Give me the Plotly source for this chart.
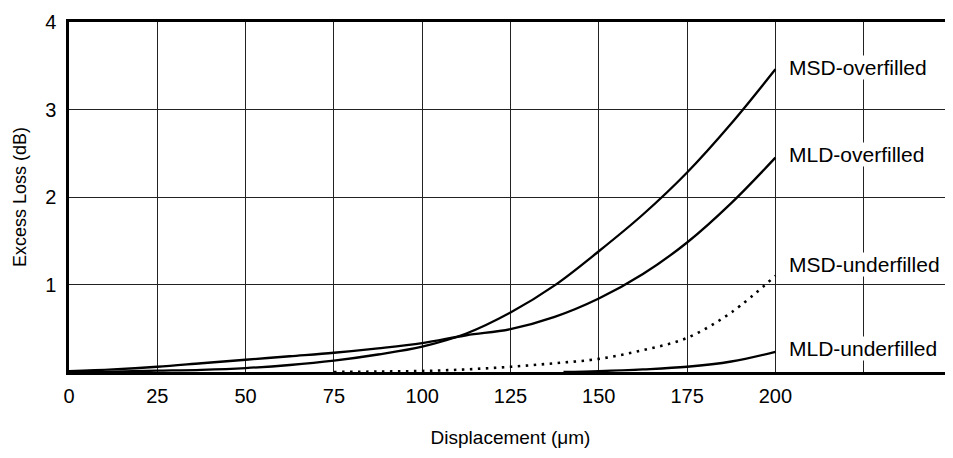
import plotly.graph_objects as go

# Displacement (um)
x_over = [0, 12.5, 25, 37.5, 50, 62.5, 75, 87.5, 100, 112.5, 125, 137.5, 150, 162.5, 175, 187.5, 200]
msd_over = [0.0, 0.005, 0.015, 0.025, 0.045, 0.08, 0.13, 0.2, 0.29, 0.44, 0.68, 0.99, 1.38, 1.8, 2.28, 2.84, 3.46]
mld_over = [0.01, 0.03, 0.06, 0.1, 0.14, 0.18, 0.22, 0.27, 0.33, 0.42, 0.49, 0.63, 0.84, 1.12, 1.48, 1.93, 2.45]

x_msd_under = [75, 87.5, 100, 112.5, 125, 137.5, 150, 162.5, 175, 187.5, 200]
msd_under = [0.0, 0.005, 0.012, 0.03, 0.06, 0.1, 0.15, 0.25, 0.39, 0.68, 1.10]

x_mld_under = [140, 150, 162.5, 175, 187.5, 200]
mld_under = [0.0, 0.01, 0.03, 0.06, 0.12, 0.23]

series_names = ["MSD-overfilled", "MLD-overfilled", "MSD-underfilled", "MLD-underfilled"]
label_y = [3.48, 2.49, 1.23, 0.27]

x_ticks = [0, 25, 50, 75, 100, 125, 150, 175, 200, 225]
x_ticktext = ["0", "25", "50", "75", "100", "125", "150", "175", "200", ""]
y_ticks = [1, 2, 3, 4]

FONT = "Liberation Sans, Arial, sans-serif"

fig = go.Figure()
fig.add_trace(go.Scatter(x=x_over, y=msd_over, mode="lines", name=series_names[0],
                         line=dict(color="black", width=2.3, shape="spline", smoothing=1.0)))
fig.add_trace(go.Scatter(x=x_over, y=mld_over, mode="lines", name=series_names[1],
                         line=dict(color="black", width=2.3, shape="spline", smoothing=1.0)))
fig.add_trace(go.Scatter(x=x_msd_under, y=msd_under, mode="lines", name=series_names[2],
                         line=dict(color="black", width=2.6, dash="2.5px,5.5px", shape="spline", smoothing=1.0)))
fig.add_trace(go.Scatter(x=x_mld_under, y=mld_under, mode="lines", name=series_names[3],
                         line=dict(color="black", width=2.3, shape="spline", smoothing=1.0)))

for name, yv in zip(series_names, label_y):
    fig.add_annotation(x=203.5, y=yv, text=name, showarrow=False, xanchor="left", yanchor="middle",
                       bgcolor="white", borderpad=0, font=dict(family=FONT, size=21, color="black"))

fig.update_layout(
    width=953, height=458,
    margin=dict(l=61, r=9, t=14, b=94),
    paper_bgcolor="white", plot_bgcolor="white",
    showlegend=False,
    font=dict(family=FONT, size=20, color="black"),
)
fig.update_xaxes(range=[0, 250], tickvals=x_ticks, ticktext=x_ticktext, automargin=False,
                 showgrid=True, gridcolor="#222", gridwidth=1.2,
                 showline=True, mirror=True, linecolor="black", linewidth=2.5,
                 zeroline=False, ticks="", ticklabelstandoff=4,
                 title=dict(text="Displacement (\u03bcm)", standoff=25, font=dict(size=19)))
fig.update_yaxes(range=[0, 4], tickvals=y_ticks, automargin=False,
                 showgrid=True, gridcolor="#222", gridwidth=1.2,
                 showline=True, mirror=True, linecolor="black", linewidth=2.5,
                 zeroline=False, ticks="", ticklabelstandoff=6,
                 title=dict(text="Excess Loss (dB)", standoff=14, font=dict(size=18)))

fig.write_html("out.html")
